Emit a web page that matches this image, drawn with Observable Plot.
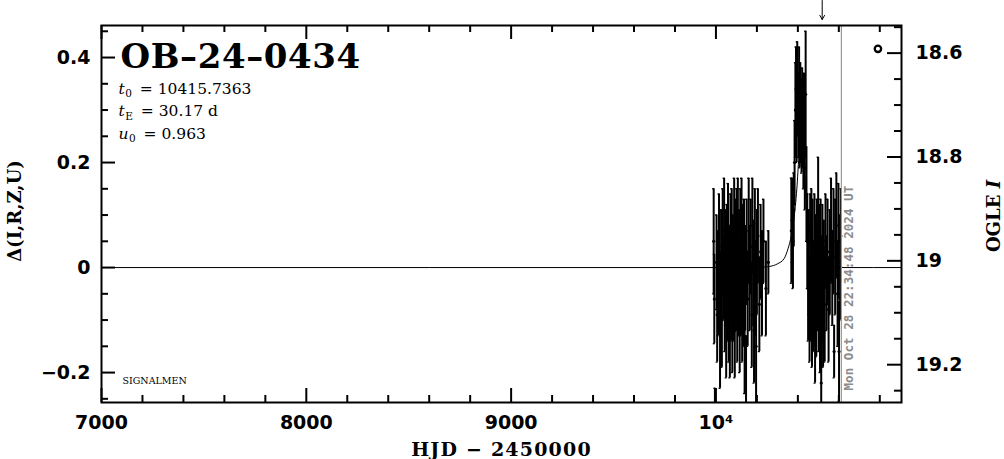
<!DOCTYPE html>
<html>
<head>
<meta charset="utf-8">
<script src="https://cdn.jsdelivr.net/npm/d3@7"></script>
<script src="https://cdn.jsdelivr.net/npm/@observablehq/plot@0.6"></script>
<style>
  html, body { margin: 0; padding: 0; background: #fff; }
  svg { display: block; }
</style>
</head>
<body>
<div id="chart"></div>
<script>
// ---------------- data ----------------
const eventName = "OB–24–0434";
const params = [
  { sym: "t", sub: "0", val: "10415.7363" },
  { sym: "t", sub: "E", val: "30.17 d" },
  { sym: "u", sub: "0", val: "0.963" }
];
const credit = "SIGNALMEN";
const nowHJD = 10612.4;
const nowLabel = "Mon Oct 28 22:34:48 2024 UT";
const alertHJD = [10518.8];
const markerHJD = [10791];
const markerDelta = [0.4166];

// observations: HJD-2450000, delta mag, error
const hjd = [
  9989, 9992, 9995, 10003, 10006, 10010, 10015, 10020, 10022, 10025,
  10029, 10033, 10036, 10040, 10043, 10046, 10050, 10053, 10056, 10059,
  10062, 10065, 10068, 10071, 10074, 10077, 10080, 10083, 10086, 10089,
  10092, 10095, 10098, 10101, 10104, 10107, 10110, 10113, 10116, 10119,
  10122, 10125, 10128, 10131, 10134, 10137, 10140, 10143, 10147, 10150,
  10155, 10160, 10165, 10170, 10175, 10178, 10182, 10186, 10190, 10193,
  10196, 10200, 10205, 10212, 10218, 10225, 10232, 10244, 10256,
  10368, 10372, 10376, 10380, 10384, 10388, 10391, 10394, 10397, 10400,
  10403, 10406, 10409, 10412, 10415, 10418, 10421, 10424, 10427, 10430,
  10434, 10438, 10442, 10446, 10450, 10453, 10457, 10460, 10463, 10466,
  10469, 10472, 10475, 10478, 10481, 10484, 10487, 10490, 10493, 10496,
  10499, 10502, 10505, 10508, 10511, 10514, 10517, 10520, 10523, 10527,
  10531, 10535, 10540, 10545, 10550, 10556, 10562, 10568, 10574, 10577,
  10582, 10588, 10594, 10598, 10601, 10606, 10610
];
const dmag = [
  0.05, -0.06, -0.33, 0.01, -0.09, -0.03, 0.04, -0.12, -0.05, 0.02,
  -0.10, 0.05, -0.02, 0.07, -0.07, 0.00, -0.11, 0.03, -0.04, 0.08,
  -0.08, -0.01, -0.13, 0.04, -0.03, 0.06, -0.10, 0.01, -0.06, 0.07,
  -0.12, 0.03, -0.03, 0.05, -0.08, 0.08, -0.05, 0.00, -0.11, 0.05,
  -0.03, 0.08, -0.09, 0.02, -0.07, 0.04, -0.14, -0.02, -0.26, 0.03,
  -0.06, 0.07, -0.02, 0.04, -0.09, 0.08, -0.01, -0.12, 0.05, -0.04,
  -0.15, 0.01, 0.06, -0.07, 0.03, -0.03, 0.05, -0.04, 0.01,
  0.07, 0.09, 0.05, 0.11, 0.20, 0.30, 0.34, 0.27, 0.36, 0.31,
  0.29, 0.35, 0.26, 0.33, 0.28, 0.25, 0.31, 0.27, 0.23, 0.29,
  0.19, 0.33, 0.14, 0.05, -0.04, 0.01, -0.08, 0.05, -0.03, 0.06,
  -0.10, 0.03, -0.06, -0.05, 0.05, -0.12, 0.00, -0.08, 0.04, -0.02,
  0.11, -0.07, 0.02, -0.11, 0.04, -0.22, -0.04, 0.03, -0.09, 0.00,
  -0.07, 0.05, -0.03, 0.03, -0.08, 0.01, 0.07, -0.02, 0.05, -0.16,
  0.02, 0.08, -0.05, 0.05, -0.16, 0.00, 0.06
];
const err = [
  0.10, 0.085, 0.10, 0.09, 0.09, 0.10, 0.10, 0.11, 0.08, 0.09,
  0.09, 0.10, 0.08, 0.10, 0.09, 0.11, 0.10, 0.09, 0.10, 0.08,
  0.10, 0.09, 0.08, 0.10, 0.11, 0.09, 0.10, 0.09, 0.08, 0.10,
  0.09, 0.10, 0.09, 0.10, 0.10, 0.09, 0.08, 0.11, 0.09, 0.10,
  0.10, 0.09, 0.09, 0.10, 0.08, 0.09, 0.10, 0.10, 0.13, 0.10,
  0.09, 0.10, 0.10, 0.09, 0.10, 0.09, 0.10, 0.10, 0.10, 0.09,
  0.12, 0.10, 0.09, 0.09, 0.09, 0.10, 0.08, 0.09, 0.06,
  0.10, 0.08, 0.09, 0.07, 0.08, 0.09, 0.08, 0.07, 0.07, 0.06,
  0.08, 0.07, 0.07, 0.06, 0.08, 0.07, 0.07, 0.08, 0.08, 0.08,
  0.08, 0.12, 0.09, 0.09, 0.10, 0.10, 0.10, 0.09, 0.11, 0.09,
  0.09, 0.10, 0.10, 0.10, 0.09, 0.10, 0.10, 0.09, 0.09, 0.10,
  0.10, 0.09, 0.10, 0.09, 0.09, 0.10, 0.10, 0.09, 0.10, 0.09,
  0.11, 0.09, 0.09, 0.10, 0.10, 0.10, 0.10, 0.09, 0.10, 0.05,
  0.11, 0.10, 0.10, 0.11, 0.095, 0.10, 0.09
];

// model curve
const modelT = [7000, 10200, 10260, 10300, 10333, 10352, 10362, 10380, 10395, 10405, 10416,
                10427, 10437, 10452, 10470, 10480, 10499, 10532, 10572, 10630, 10906];
const modelD = [0, 0, 0.002, 0.007, 0.017, 0.036, 0.05, 0.09, 0.15, 0.21, 0.24,
                0.21, 0.15, 0.09, 0.05, 0.036, 0.017, 0.007, 0.002, 0, 0];

// axes
const xDomain = [7000, 10906];
const yDomain = [-0.257, 0.461];
const xMajor = [7000, 8000, 9000, 10000];
const xMinor = d3.range(7200, 10901, 200).filter(v => v % 1000 !== 0);
const yMajor = [-0.2, 0, 0.2, 0.4];
const yMinor = [-0.25, -0.15, -0.1, -0.05, 0.05, 0.1, 0.15, 0.25, 0.3, 0.35, 0.45];
const magMajor = [18.6, 18.8, 19, 19.2];
const magMinor = [18.55, 18.65, 18.7, 18.75, 18.85, 18.9, 18.95, 19.05, 19.1, 19.15, 19.25];
const xLabel = "HJD − 2450000";
const yLabel = "Δ(I,R,Z,U)";
const y2Label = "OGLE I";

// mapping of the right-hand OGLE I magnitude axis onto the left delta axis
const magRef = 19, deltaAtRef = 0.0128, deltaPerMag = 0.989;
const magToDelta = m => deltaAtRef + (magRef - m) * deltaPerMag;

// ---------------- layout ----------------
const W = 1004, H = 459;
const mL = 101, mR = 103, mT = 25, mB = 57;
const frameW = W - mL - mR, frameH = H - mT - mB;
const capDays = 5;

const points = hjd.map((t, i) => ({ t, d: dmag[i], e: err[i] }));
const model = modelT.map((t, i) => ({ t, d: modelD[i] }));

const numFont = "DejaVu Sans, Liberation Sans, sans-serif";
const serif = "DejaVu Serif, Liberation Serif, serif";
const fmtY = v => v === 0 ? "0" : (v < 0 ? "−" : "") + String(Math.abs(v));
const fmtX = v => v === 10000 ? "10⁴" : String(v);
const paramText = q => `${q.sym}${q.sub} = ${q.val}`;

const plot = Plot.plot({
  width: W, height: H,
  marginLeft: mL, marginRight: mR, marginTop: mT, marginBottom: mB,
  x: { domain: xDomain, axis: null },
  y: { domain: yDomain, axis: null },
  style: { background: "#fff", color: "#000", overflow: "visible" },
  marks: [
    // model
    Plot.line(model, { x: "t", y: "d", curve: "monotone-x", stroke: "#000", strokeWidth: 1, clip: true }),
    // data error bars
    Plot.ruleX(points, { x: "t", y1: p => p.d - p.e, y2: p => p.d + p.e, stroke: "#000", strokeWidth: 2, clip: true }),
    Plot.ruleY(points, { y: p => p.d + p.e, x1: p => p.t - capDays, x2: p => p.t + capDays, stroke: "#000", strokeWidth: 1.3, clip: true }),
    Plot.ruleY(points, { y: p => p.d - p.e, x1: p => p.t - capDays, x2: p => p.t + capDays, stroke: "#000", strokeWidth: 1.3, clip: true }),
    Plot.dot(points, { x: "t", y: "d", r: 1.6, fill: "#000", stroke: null, clip: true }),
    // current time
    Plot.ruleX([nowHJD], { x: d => d, stroke: "#999", strokeWidth: 1.2 }),
    Plot.text([nowLabel], { x: () => nowHJD, frameAnchor: "bottom", text: d => d, rotate: -90,
      textAnchor: "start", lineAnchor: "middle", dx: 7.5, dy: -12, fill: "#8c8c8c",
      fontFamily: "DejaVu Sans Mono, Liberation Mono, monospace", fontWeight: "bold", fontSize: 12.6 }),
    // marker and arrow
    Plot.dot(markerHJD.map((t, i) => ({ t, d: markerDelta[i] })), { x: "t", y: "d", r: 3.2, stroke: "#000", strokeWidth: 2.3, fill: "none" }),
    Plot.arrow(alertHJD, { x1: d => d, x2: d => d, y1: () => yDomain[1] + 25 / 525, y2: () => yDomain[1] + 6 / 525,
      stroke: "#000", strokeWidth: 1, headLength: 7, headAngle: 60 }),
    // ticks, bottom/top
    Plot.tickX(xMajor, { x: d => d, insetTop: frameH - 14, strokeWidth: 2 }),
    Plot.tickX(xMinor, { x: d => d, insetTop: frameH - 7, strokeWidth: 2 }),
    Plot.tickX(xMajor, { x: d => d, insetBottom: frameH - 14, strokeWidth: 2 }),
    Plot.tickX(xMinor, { x: d => d, insetBottom: frameH - 7, strokeWidth: 2 }),
    // ticks, left
    Plot.tickY(yMajor, { y: d => d, insetRight: frameW - 14, strokeWidth: 2 }),
    Plot.tickY(yMinor, { y: d => d, insetRight: frameW - 7, strokeWidth: 2 }),
    // ticks, right (OGLE I)
    Plot.tickY(magMajor, { y: m => magToDelta(m), insetLeft: frameW - 14, strokeWidth: 2 }),
    Plot.tickY(magMinor, { y: m => magToDelta(m), insetLeft: frameW - 7, strokeWidth: 2 }),
    Plot.frame({ stroke: "#000", strokeWidth: 2 }),
    // tick labels
    Plot.text(xMajor, { x: d => d, frameAnchor: "bottom", text: fmtX, lineAnchor: "top", dy: 13,
      fontFamily: numFont, fontWeight: "bold", fontSize: 19 }),
    Plot.text(yMajor, { y: d => d, frameAnchor: "left", text: fmtY, textAnchor: "end", lineAnchor: "middle", dx: -11,
      fontFamily: numFont, fontWeight: "bold", fontSize: 19 }),
    Plot.text(magMajor, { y: m => magToDelta(m), frameAnchor: "right", text: m => String(m), textAnchor: "start", lineAnchor: "middle", dx: 14,
      fontFamily: numFont, fontWeight: "bold", fontSize: 19 }),
    // axis labels
    Plot.text([xLabel], { frameAnchor: "bottom", text: d => d, lineAnchor: "top", dy: 40,
      fontFamily: serif, fontWeight: "bold", fontSize: 19 }),
    Plot.text([yLabel], { frameAnchor: "left", text: d => d, rotate: -90, textAnchor: "middle", lineAnchor: "middle",
      dx: -86, dy: -3, fontFamily: serif, fontWeight: "bold", fontSize: 18 }),
    Plot.text([y2Label], { frameAnchor: "right", text: d => d, rotate: -90, textAnchor: "middle", lineAnchor: "middle",
      dx: 93, dy: 2, fontFamily: serif, fontWeight: "bold", fontSize: 18 }),
    // title and parameters
    Plot.text([eventName], { frameAnchor: "top-left", text: d => d, lineAnchor: "top", textAnchor: "start", dx: 19, dy: 18,
      fontFamily: serif, fontWeight: "bold", fontSize: 34 }),
    ...params.map((p, i) => Plot.text([p], { frameAnchor: "top-left", text: paramText,
      lineAnchor: "top", textAnchor: "start", dx: 17, dy: 57 + i * 22.5, fontFamily: serif, fontSize: 15.5 })),
    Plot.text([credit], { frameAnchor: "bottom-left", text: d => d, lineAnchor: "top", textAnchor: "start", dx: 21, dy: -25,
      fontFamily: serif, fontSize: 9.5 })
  ]
});

// rich text: italic symbols and subscripts, letter spacing
const svg = d3.select(plot);
const findText = s => svg.selectAll("text").filter(function () { return this.textContent === s; });
params.forEach(p => {
  const t = findText(paramText(p));
  if (t.empty()) return;
  t.text(null);
  t.append("tspan").attr("font-style", "italic").text(p.sym);
  t.append("tspan").attr("font-size", "10.5px").attr("dy", "3.5").attr("dx", "0.5").text(p.sub);
  t.append("tspan").attr("dy", "-3.5").attr("dx", "3").text(" = " + p.val);
});
{
  const t = findText(y2Label);
  if (!t.empty()) {
    const parts = y2Label.split(" ");
    t.text(null);
    t.append("tspan").text(parts[0] + " ");
    t.append("tspan").attr("font-style", "italic").text(parts[1]);
  }
}
findText(eventName).attr("letter-spacing", "0.6px");
findText(xLabel).attr("letter-spacing", "1.2px");

document.getElementById("chart").appendChild(plot);
</script>
</body>
</html>
